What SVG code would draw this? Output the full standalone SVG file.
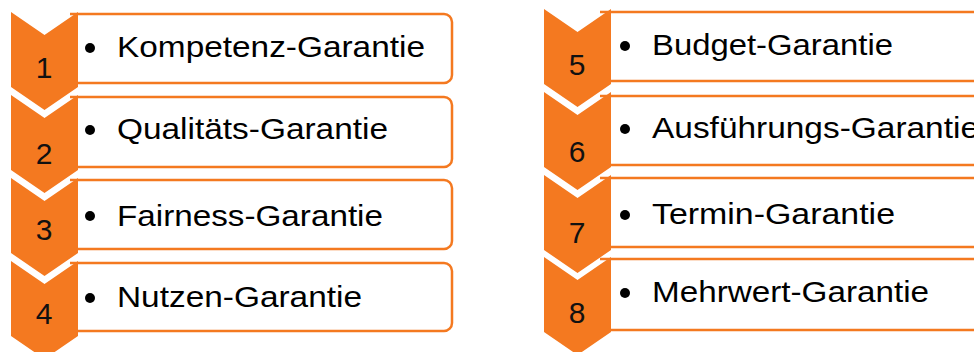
<svg xmlns="http://www.w3.org/2000/svg" width="974" height="352" viewBox="0 0 974 352">
<style>
.box{fill:#fff;stroke:#F47920;stroke-width:2.5}
.chev{fill:#F47920}
.num{font-family:"Liberation Sans",Arial,sans-serif;font-size:30px;fill:#111;text-anchor:middle}
.lbl{font-family:"Liberation Sans",Arial,sans-serif;font-size:30px;fill:#000}
.dot{fill:#000}
</style>
<rect width="974" height="352" fill="#fff"/>
<g id="connectors"></g>
<g id="item1">
<path class="box" d="M70,14 H444 A8,8 0 0 1 452,22 V75 A8,8 0 0 1 444,83 H70"/>
<path class="chev" d="M11,12 L44.5,35 L78,12 V87 L44.5,110 L11,87 Z"/>
<text class="num" x="44" y="78">1</text>
<circle class="dot" cx="90" cy="48" r="5"/>
<text class="lbl" x="117" y="57" textLength="308" lengthAdjust="spacingAndGlyphs">Kompetenz-Garantie</text>
</g>
<g id="item2">
<path class="box" d="M70,97 H444 A8,8 0 0 1 452,105 V159 A8,8 0 0 1 444,167 H70"/>
<path class="chev" d="M11,95 L44.5,118 L78,95 V170 L44.5,193 L11,170 Z"/>
<text class="num" x="44" y="164">2</text>
<circle class="dot" cx="90" cy="130" r="5"/>
<text class="lbl" x="117" y="139" textLength="271" lengthAdjust="spacingAndGlyphs">Qualitäts-Garantie</text>
</g>
<g id="item3">
<path class="box" d="M70,180 H444 A8,8 0 0 1 452,188 V241 A8,8 0 0 1 444,249 H70"/>
<path class="chev" d="M11,178 L44.5,201 L78,178 V253 L44.5,276 L11,253 Z"/>
<text class="num" x="44" y="240">3</text>
<circle class="dot" cx="90" cy="216" r="5"/>
<text class="lbl" x="117" y="226" textLength="266" lengthAdjust="spacingAndGlyphs">Fairness-Garantie</text>
</g>
<g id="item4">
<path class="box" d="M70,263 H444 A8,8 0 0 1 452,271 V323 A8,8 0 0 1 444,331 H70"/>
<path class="chev" d="M11,261 L44.5,284 L78,261 V336 L44.5,359 L11,336 Z"/>
<text class="num" x="44" y="324">4</text>
<circle class="dot" cx="90" cy="298" r="5"/>
<text class="lbl" x="117" y="307" textLength="245" lengthAdjust="spacingAndGlyphs">Nutzen-Garantie</text>
</g>
<g id="item5">
<path class="box" d="M600,12 H990 V81 H600"/>
<path class="chev" d="M544,9 L577.5,32 L611,9 V84 L577.5,107 L544,84 Z"/>
<text class="num" x="577" y="75">5</text>
<circle class="dot" cx="625" cy="46" r="5"/>
<text class="lbl" x="652" y="55" textLength="241" lengthAdjust="spacingAndGlyphs">Budget-Garantie</text>
</g>
<g id="item6">
<path class="box" d="M600,96 H990 V165 H600"/>
<path class="chev" d="M544,92 L577.5,115 L611,92 V167 L577.5,190 L544,167 Z"/>
<text class="num" x="577" y="162">6</text>
<circle class="dot" cx="625" cy="129" r="5"/>
<text class="lbl" x="652" y="138" textLength="327" lengthAdjust="spacingAndGlyphs">Ausführungs-Garantie</text>
</g>
<g id="item7">
<path class="box" d="M600,178 H990 V247 H600"/>
<path class="chev" d="M544,175 L577.5,198 L611,175 V250 L577.5,273 L544,250 Z"/>
<text class="num" x="577" y="243">7</text>
<circle class="dot" cx="625" cy="215" r="5"/>
<text class="lbl" x="652" y="224" textLength="243" lengthAdjust="spacingAndGlyphs">Termin-Garantie</text>
</g>
<g id="item8">
<path class="box" d="M600,259 H990 V330 H600"/>
<path class="chev" d="M544,257 L577.5,280 L611,257 V332 L577.5,355 L544,332 Z"/>
<text class="num" x="577" y="323">8</text>
<circle class="dot" cx="625" cy="293" r="5"/>
<text class="lbl" x="652" y="302" textLength="277" lengthAdjust="spacingAndGlyphs">Mehrwert-Garantie</text>
</g>
</svg>
